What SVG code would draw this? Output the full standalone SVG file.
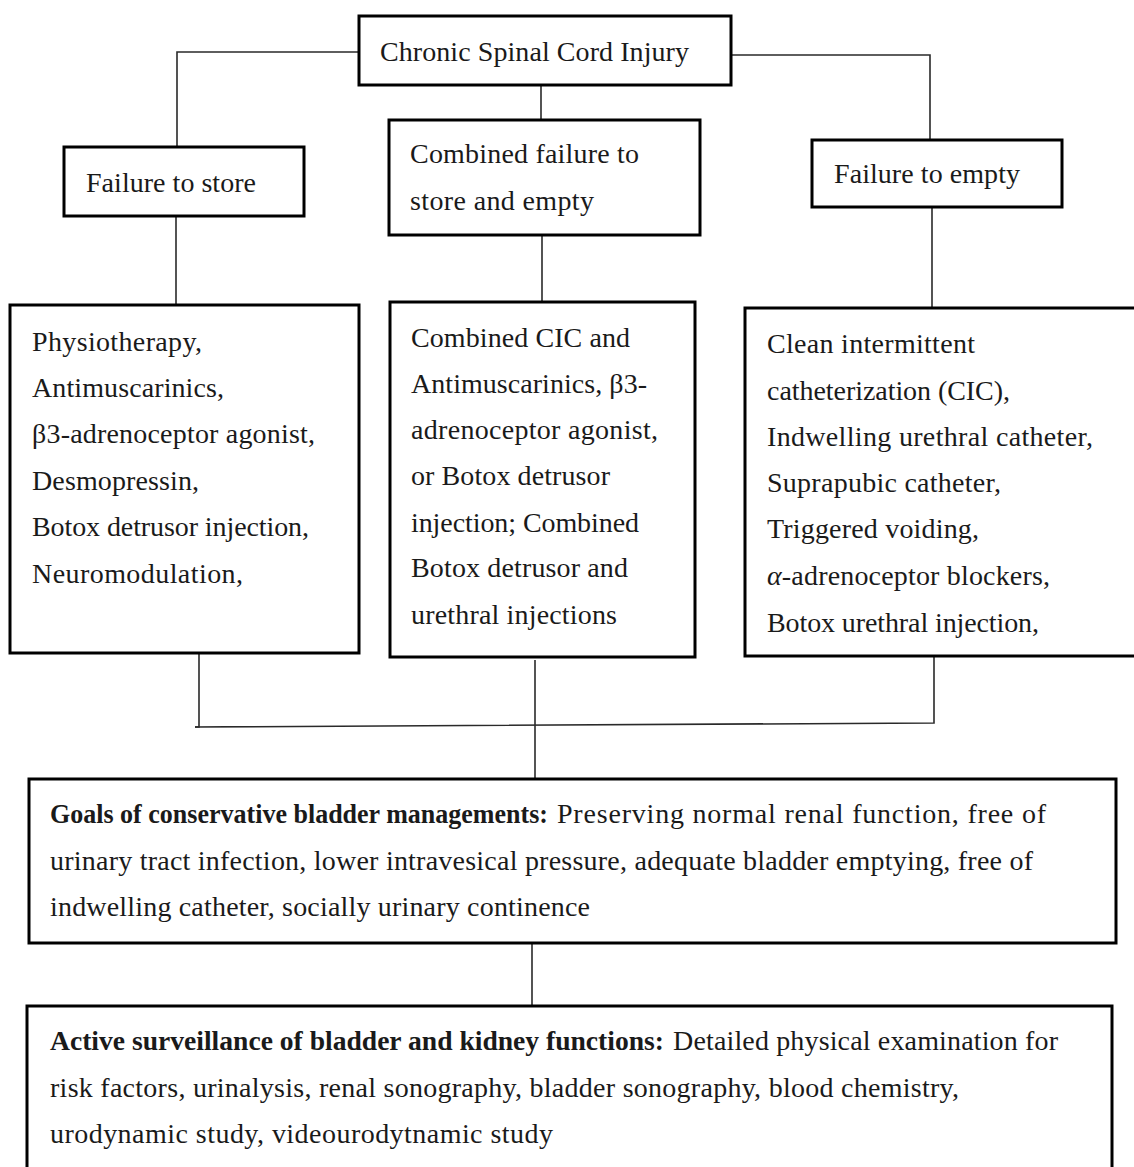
<svg xmlns="http://www.w3.org/2000/svg" width="1134" height="1167" viewBox="0 0 1134 1167">
<style>
  .box { fill: #ffffff; stroke: #000000; stroke-width: 3; }
  .conn { fill: none; stroke: #2a2a2a; stroke-width: 1.6; }
  text { font-family: "Liberation Serif", "Times New Roman", serif; font-size: 28px; fill: #1a1a1a; }
  .b { font-weight: bold; }
  .it { font-style: italic; }
</style>
<rect x="0" y="0" width="1134" height="1167" fill="#ffffff"/>
<g id="connectors">
  <polyline class="conn" points="359,52 177,52 177,146"/>
  <polyline class="conn" points="731,55 930,55 930,140"/>
  <line class="conn" x1="541" y1="85" x2="541" y2="120"/>
  <line class="conn" x1="176" y1="216" x2="176" y2="305"/>
  <line class="conn" x1="542" y1="235" x2="542" y2="302"/>
  <line class="conn" x1="932" y1="207" x2="932" y2="308"/>
  <polyline class="conn" points="199,654 199,727 195,727"/>
  <polyline class="conn" points="195,727 934,723 934,657"/>
  <line class="conn" x1="535" y1="660" x2="535" y2="779"/>
  <line class="conn" x1="532" y1="943" x2="532" y2="1006"/>
</g>
<g id="node-injury">
  <rect class="box" x="359" y="16" width="372" height="69"/>
  <text x="380" y="61" textLength="309">Chronic Spinal Cord Injury</text>
</g>
<g id="node-store">
  <rect class="box" x="64" y="147" width="240" height="69"/>
  <text x="86" y="192" textLength="170">Failure to store</text>
</g>
<g id="node-combined">
  <rect class="box" x="389" y="120" width="311" height="115"/>
  <text x="410" y="163" textLength="229">Combined failure to</text>
  <text x="410" y="210" textLength="184">store and empty</text>
</g>
<g id="node-empty">
  <rect class="box" x="812" y="140" width="250" height="67"/>
  <text x="834" y="183" textLength="186">Failure to empty</text>
</g>
<g id="node-store-tx">
  <rect class="box" x="10" y="305" width="349" height="348"/>
  <text x="32" y="351" textLength="170">Physiotherapy,</text>
  <text x="32" y="397" textLength="192">Antimuscarinics,</text>
  <text x="32" y="443" textLength="283">β3-adrenoceptor agonist,</text>
  <text x="32" y="490" textLength="167">Desmopressin,</text>
  <text x="32" y="536" textLength="277">Botox detrusor injection,</text>
  <text x="32" y="583" textLength="211">Neuromodulation,</text>
</g>
<g id="node-combined-tx">
  <rect class="box" x="390" y="302" width="305" height="355"/>
  <text x="411" y="347" textLength="219">Combined CIC and</text>
  <text x="411" y="393" textLength="236">Antimuscarinics, β3-</text>
  <text x="411" y="439" textLength="247">adrenoceptor agonist,</text>
  <text x="411" y="485" textLength="199">or Botox detrusor</text>
  <text x="411" y="532" textLength="228">injection; Combined</text>
  <text x="411" y="577" textLength="217">Botox detrusor and</text>
  <text x="411" y="624" textLength="206">urethral injections</text>
</g>
<g id="node-empty-tx">
  <rect class="box" x="745" y="308" width="400" height="348"/>
  <text x="767" y="353" textLength="208">Clean intermittent</text>
  <text x="767" y="400" textLength="243">catheterization (CIC),</text>
  <text x="767" y="446" textLength="326">Indwelling urethral catheter,</text>
  <text x="767" y="492" textLength="234">Suprapubic catheter,</text>
  <text x="767" y="538" textLength="212">Triggered voiding,</text>
  <text x="767" y="585" textLength="283"><tspan class="it">α</tspan>-adrenoceptor blockers,</text>
  <text x="767" y="632" textLength="272">Botox urethral injection,</text>
</g>
<g id="node-goals">
  <rect class="box" x="29" y="779" width="1087" height="164"/>
  <text class="b" x="50" y="823" textLength="498" lengthAdjust="spacingAndGlyphs">Goals of conservative bladder managements:</text>
  <text x="557" y="823" textLength="489">Preserving normal renal function, free of</text>
  <text x="50" y="870" textLength="983">urinary tract infection, lower intravesical pressure, adequate bladder emptying, free of</text>
  <text x="50" y="916" textLength="540">indwelling catheter, socially urinary continence</text>
</g>
<g id="node-surveillance">
  <rect class="box" x="27" y="1006" width="1085" height="200"/>
  <text class="b" x="50" y="1050" textLength="614" lengthAdjust="spacingAndGlyphs">Active surveillance of bladder and kidney functions:</text>
  <text x="673" y="1050" textLength="385">Detailed physical examination for</text>
  <text x="50" y="1097" textLength="909">risk factors, urinalysis, renal sonography, bladder sonography, blood chemistry,</text>
  <text x="50" y="1143" textLength="503">urodynamic study, videourodytnamic study</text>
</g>
</svg>
